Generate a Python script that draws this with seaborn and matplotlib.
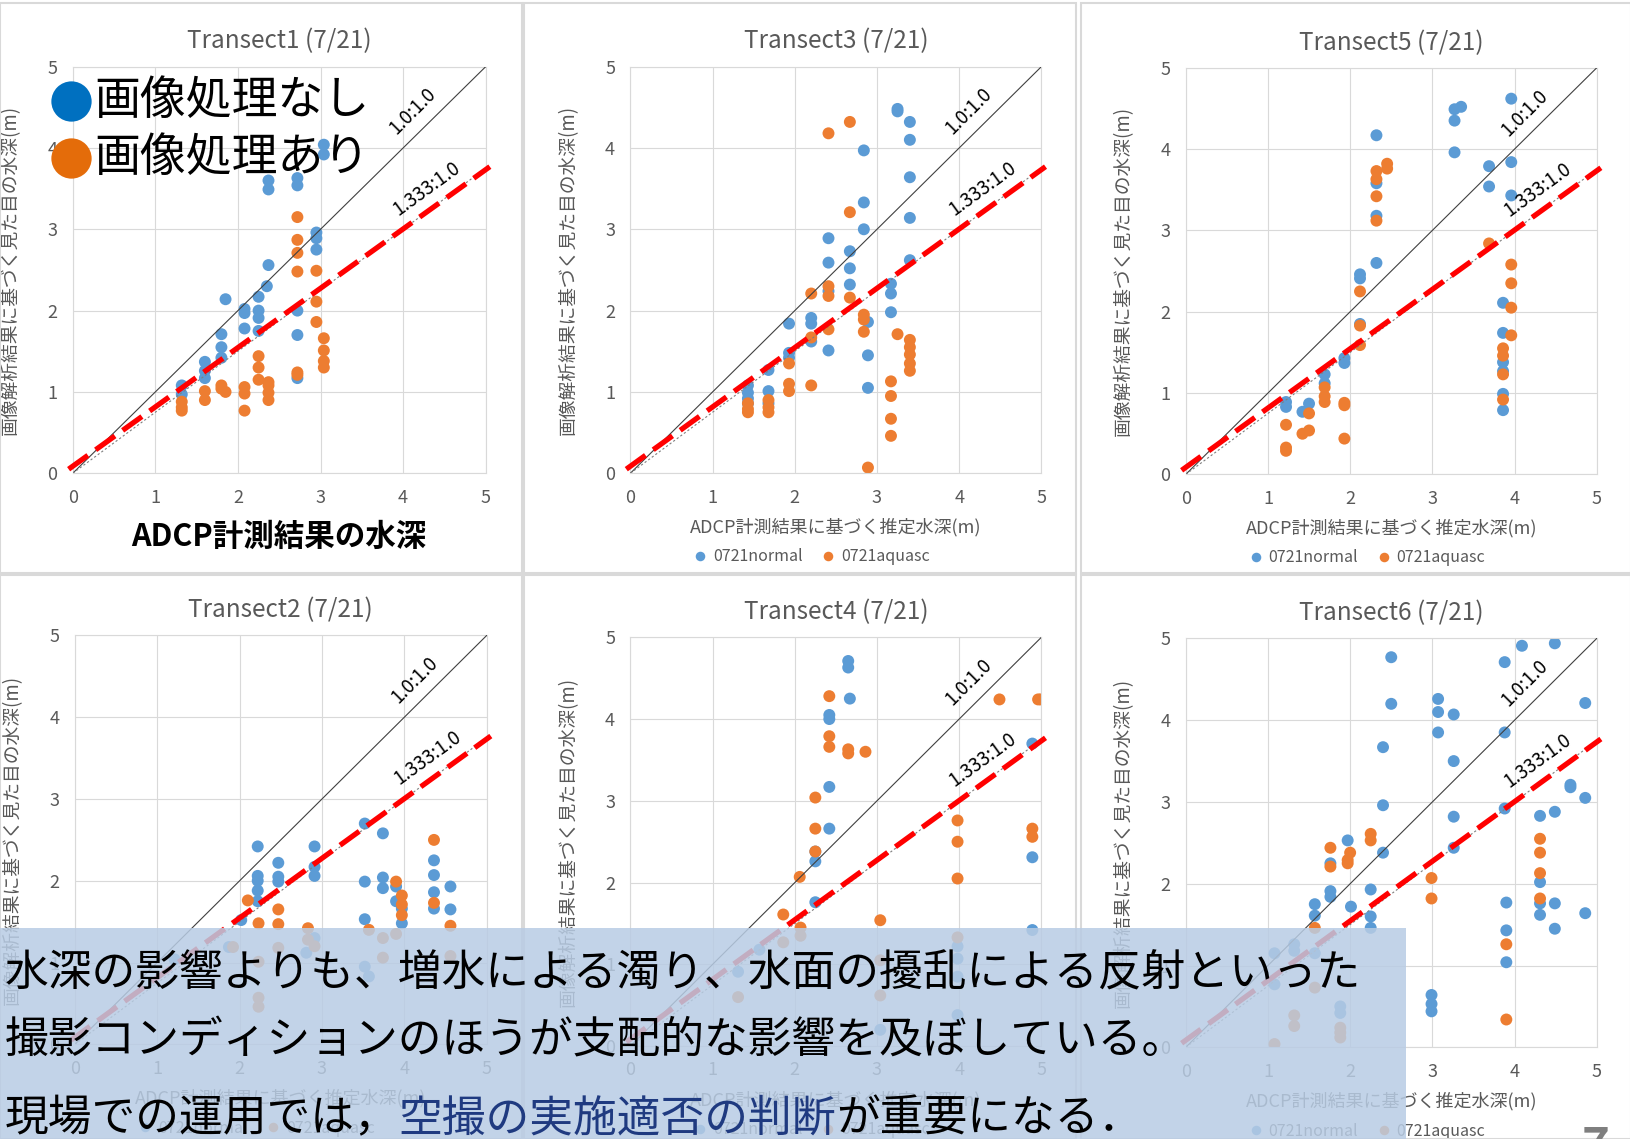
import numpy as np
import pandas as pd
import matplotlib
matplotlib.use("Agg")
import matplotlib.pyplot as plt
from matplotlib.lines import Line2D
from matplotlib.patches import Rectangle
import seaborn as sns

# ---- data (ADCP depth vs. image-based depth) ----
t1_x_normal = [1.32, 1.32, 1.60, 1.60, 1.60, 1.80, 1.80, 1.80, 1.85, 2.08, 2.08, 2.08,
               2.25, 2.25, 2.25, 2.25, 2.37, 2.35, 2.37, 2.37, 2.72, 2.72, 2.72, 2.72, 2.72,
               2.95, 2.95, 2.95, 3.04, 3.04]
t1_y_normal = [1.08, 0.97, 1.37, 1.26, 1.17, 1.71, 1.55, 1.42, 2.14, 2.02, 1.97, 1.78,
               2.17, 2.00, 1.91, 1.75, 2.56, 2.30, 3.60, 3.49, 3.63, 3.54, 2.00, 1.70, 1.17,
               2.96, 2.89, 2.75, 4.04, 3.92]
t1_x_aquasc = [1.32, 1.32, 1.32, 1.60, 1.60, 1.80, 1.80, 1.85, 2.08, 2.08, 2.08,
               2.25, 2.25, 2.25, 2.37, 2.37, 2.37, 2.37, 2.72, 2.72, 2.72, 2.72, 2.72, 2.72,
               2.95, 2.95, 2.95, 3.04, 3.04, 3.04, 3.04]
t1_y_aquasc = [0.88, 0.81, 0.77, 1.01, 0.90, 1.08, 1.04, 1.00, 1.06, 0.98, 0.77,
               1.44, 1.30, 1.15, 1.12, 1.08, 0.99, 0.90, 3.15, 2.87, 2.71, 2.48, 1.24, 1.21,
               2.49, 2.11, 1.86, 1.66, 1.51, 1.38, 1.30]

t3_x_normal = [1.43, 1.43, 1.43, 1.43, 1.68, 1.68, 1.68, 1.93, 1.93, 1.93, 2.20, 2.20, 2.20,
               2.41, 2.41, 2.41, 2.41, 2.67, 2.67, 2.67, 2.84, 2.84, 2.84, 2.89, 2.89, 2.89,
               3.17, 3.17, 3.17, 3.25, 3.25, 3.40, 3.40, 3.40, 3.40, 3.40]
t3_y_normal = [1.08, 0.99, 0.92, 0.86, 1.27, 1.01, 0.86, 1.84, 1.48, 1.42, 1.91, 1.84, 1.62,
               2.89, 2.59, 2.24, 1.51, 2.73, 2.52, 2.32, 3.97, 3.33, 3.00, 1.86, 1.45, 1.05,
               2.33, 2.21, 1.98, 4.45, 4.48, 4.32, 4.10, 3.64, 3.14, 2.62]
t3_x_aquasc = [1.43, 1.43, 1.43, 1.68, 1.68, 1.68, 1.93, 1.93, 1.93, 2.20, 2.20, 2.20,
               2.41, 2.41, 2.41, 2.41, 2.67, 2.67, 2.67, 2.84, 2.84, 2.84, 2.89,
               3.17, 3.17, 3.17, 3.17, 3.25, 3.40, 3.40, 3.40, 3.40, 3.40]
t3_y_aquasc = [0.86, 0.79, 0.75, 0.90, 0.81, 0.75, 1.35, 1.10, 1.01, 1.08, 2.21, 1.67,
               4.18, 2.30, 2.18, 1.77, 4.32, 3.21, 2.16, 1.95, 1.89, 1.74, 0.07,
               1.13, 0.95, 0.67, 0.46, 1.71, 1.64, 1.55, 1.46, 1.35, 1.26]

t5_x_normal = [1.22, 1.22, 1.42, 1.50, 1.69, 1.69, 1.93, 1.93, 2.12, 2.12, 2.12,
               2.32, 2.32, 2.32, 2.32, 3.27, 3.27, 3.27, 3.35, 3.69, 3.69, 3.96, 3.96, 3.96,
               3.86, 3.86, 3.86, 3.86, 3.86, 3.86]
t5_y_normal = [0.89, 0.83, 0.77, 0.87, 1.23, 1.12, 1.43, 1.37, 2.46, 2.41, 1.85,
               4.17, 3.58, 3.18, 2.60, 4.49, 4.35, 3.96, 4.52, 3.79, 3.54, 4.62, 3.84, 3.43,
               2.11, 1.74, 1.38, 1.27, 0.99, 0.79]
t5_x_aquasc = [1.22, 1.22, 1.22, 1.42, 1.50, 1.50, 1.69, 1.69, 1.69, 1.93, 1.93, 1.93,
               2.12, 2.12, 2.12, 2.32, 2.32, 2.32, 2.32, 2.45, 2.45, 3.69,
               3.96, 3.96, 3.96, 3.96, 3.86, 3.86, 3.86, 3.86]
t5_y_aquasc = [0.61, 0.33, 0.29, 0.50, 0.75, 0.54, 1.07, 0.96, 0.89, 0.88, 0.85, 0.44,
               2.25, 1.83, 1.59, 3.73, 3.63, 3.42, 3.12, 3.82, 3.76, 2.84,
               2.58, 2.35, 2.05, 1.71, 1.55, 1.46, 1.23, 0.92]

t2_x_normal = [2.02, 2.22, 2.22, 2.22, 2.22, 2.22, 2.47, 2.47, 2.47, 2.91, 2.91, 2.91,
               3.52, 3.52, 3.52, 3.74, 3.74, 3.74, 3.90, 3.90, 3.97, 3.97,
               4.36, 4.36, 4.36, 4.36, 4.56, 4.56, 1.87, 2.81, 3.52, 3.57, 1.21, 2.91]
t2_y_normal = [1.52, 2.42, 2.06, 2.00, 1.88, 1.75, 2.22, 2.05, 1.99, 2.42, 2.17, 2.06,
               2.70, 1.99, 1.53, 2.58, 2.04, 1.91, 1.93, 1.75, 1.66, 1.48,
               2.25, 2.07, 1.86, 1.66, 1.93, 1.65, 1.19, 1.12, 0.95, 0.83, 1.04, 1.30]
t2_x_aquasc = [2.10, 2.23, 2.47, 2.47, 2.83, 3.57, 3.90, 3.97, 3.97, 3.97, 4.36, 4.36, 4.56,
               2.23, 2.23, 2.23, 2.47, 3.74, 4.56, 2.83, 1.92, 2.91, 3.74, 3.90]
t2_y_aquasc = [1.76, 1.48, 1.65, 1.47, 1.42, 1.40, 1.99, 1.82, 1.71, 1.58, 2.50, 1.73, 1.45,
               1.01, 0.57, 0.46, 1.18, 1.06, 1.08, 1.28, 1.19, 1.20, 1.30, 1.35]

t4_x_normal = [2.65, 2.65, 2.67, 2.42, 2.42, 2.42, 2.42, 2.25, 2.25, 2.25, 4.89, 4.89, 4.89,
               3.98, 3.98, 3.98, 3.98, 1.31, 1.57, 3.04]
t4_y_normal = [4.71, 4.63, 4.25, 4.05, 4.00, 3.17, 2.66, 2.38, 2.26, 1.76, 3.70, 2.31, 1.42,
               1.22, 1.07, 0.85, 0.38, 0.91, 1.18, 0.20]
t4_x_aquasc = [2.42, 2.42, 2.42, 2.65, 2.65, 2.86, 2.25, 2.25, 2.25, 2.06, 1.86, 2.07, 3.04,
               3.98, 3.98, 3.98, 4.49, 4.96, 4.99, 4.89, 4.89, 3.98, 3.04, 1.31, 1.86, 2.07, 3.04]
t4_y_aquasc = [4.28, 3.79, 3.66, 3.63, 3.58, 3.60, 3.04, 2.66, 2.38, 2.07, 1.61, 1.45, 1.54,
               2.76, 2.50, 2.05, 4.24, 4.24, 4.24, 2.66, 2.56, 1.33, 0.62, 0.60, 1.27, 1.35, 1.05]

t6_x_normal = [2.50, 2.50, 2.40, 2.40, 2.40, 1.97, 2.01, 1.76, 1.76, 1.76, 1.57, 1.57,
               2.25, 2.25, 2.25, 3.07, 3.07, 3.07, 3.26, 3.26, 3.26, 3.26, 3.88, 3.88, 3.88,
               4.09, 4.49, 4.86, 4.86, 4.86, 4.68, 4.68, 4.31, 4.31, 4.31, 4.31,
               4.49, 4.49, 4.49, 3.90, 3.90, 3.90, 2.99, 2.99, 2.99,
               1.08, 1.32, 1.32, 1.88, 1.88, 1.08, 1.57]
t6_y_normal = [4.77, 4.20, 3.67, 2.96, 2.38, 2.53, 1.72, 2.25, 1.91, 1.84, 1.75, 1.61,
               1.93, 1.60, 1.46, 4.26, 4.10, 3.85, 4.07, 3.50, 2.82, 2.44, 4.71, 3.85, 2.92,
               4.91, 4.94, 4.21, 3.05, 1.64, 3.21, 3.18, 2.83, 2.02, 1.76, 1.62,
               2.88, 1.76, 1.45, 1.77, 1.43, 1.04, 0.64, 0.53, 0.44,
               1.15, 1.26, 1.18, 0.50, 0.42, 0.77, 1.15]
t6_x_aquasc = [1.76, 1.76, 2.00, 1.97, 1.97, 2.25, 2.25, 1.57, 2.99, 2.99,
               4.31, 4.31, 4.31, 4.31, 3.90, 3.90, 1.08, 1.32, 1.32, 1.88, 1.88, 1.57, 1.88]
t6_y_aquasc = [2.44, 2.21, 2.38, 2.29, 2.25, 2.61, 2.53, 1.46, 2.07, 1.82,
               2.55, 2.38, 2.13, 1.82, 1.26, 0.34, 0.04, 0.39, 0.26, 0.24, 0.12, 0.73, 0.18]

titles = ['Transect1 (7/21)', 'Transect3 (7/21)', 'Transect5 (7/21)',
          'Transect2 (7/21)', 'Transect4 (7/21)', 'Transect6 (7/21)']
series_names = ['0721normal', '0721aquasc']
ratio_labels = ['1.0:1.0', '1.333:1.0']
ylabel_text = '画像解析結果に基づく見た目の水深(m)'
xlabel_text = 'ADCP計測結果に基づく推定水深(m)'
legend_texts = ['画像処理なし', '画像処理あり']
note_lines = ['水深の影響よりも、増水による濁り、水面の擾乱による反射といった',
              '撮影コンディションのほうが支配的な影響を及ぼしている。']
note_last = [('現場での運用では，', 'black'), ('空撮の実施適否の判断', '#1F3A80'),
             ('が重要になる．', 'black')]

BLUE = '#5B9BD5'
ORANGE = '#ED7D31'
GRAY = '#595959'

sns.set_style('whitegrid', {'grid.color': '#D9D9D9', 'axes.edgecolor': '#D9D9D9'})
plt.rcParams['font.family'] = ['Noto Sans CJK JP', 'DejaVu Sans']

fig = plt.figure(figsize=(16.31, 11.39), dpi=100)

# axes boxes [left, bottom, width, height] in figure fractions
boxes = [
    [0.0446, 0.5845, 0.2532, 0.357],
    [0.3865, 0.5845, 0.2520, 0.357],
    [0.7270, 0.5835, 0.2520, 0.357],
    [0.0459, 0.0831, 0.2525, 0.359],
    [0.3865, 0.0815, 0.2520, 0.359],
    [0.7270, 0.0805, 0.2520, 0.359],
]
panel_data = [
    (t1_x_normal, t1_y_normal, t1_x_aquasc, t1_y_aquasc),
    (t3_x_normal, t3_y_normal, t3_x_aquasc, t3_y_aquasc),
    (t5_x_normal, t5_y_normal, t5_x_aquasc, t5_y_aquasc),
    (t2_x_normal, t2_y_normal, t2_x_aquasc, t2_y_aquasc),
    (t4_x_normal, t4_y_normal, t4_x_aquasc, t4_y_aquasc),
    (t6_x_normal, t6_y_normal, t6_x_aquasc, t6_y_aquasc),
]


def draw_panel(ax, title, xn, yn, xa, ya, first=False):
    df = pd.concat([
        pd.DataFrame({'x': xn, 'y': yn, 'series': series_names[0]}),
        pd.DataFrame({'x': xa, 'y': ya, 'series': series_names[1]}),
    ], ignore_index=True)
    sns.scatterplot(data=df, x='x', y='y', hue='series',
                    palette={series_names[0]: BLUE, series_names[1]: ORANGE},
                    s=74, edgecolor='none', linewidth=0, ax=ax, zorder=2)

    # reference lines 1:1 and 1.333:1
    ax.plot([0, 5], [0, 5], color='#404040', lw=0.8, zorder=3)
    ax.plot([0, 5], [0, 3.75], color='#7F7F7F', lw=0.8, ls=(0, (2, 2)), zorder=3)
    ax.plot([-0.05, 5.05], [0.05, 3.77], color='#FF0000', lw=3.8,
            dashes=(4.5, 1.8), zorder=4, clip_on=False)
    ax.text(4.12, 4.45, ratio_labels[0], rotation=45, ha='center', va='center',
            fontsize=13.5, color='black', zorder=5)
    ax.text(4.28, 3.50, ratio_labels[1], rotation=36, ha='center', va='center',
            fontsize=13.5, color='black', zorder=5)

    ax.set_xlim(0, 5)
    ax.set_ylim(0, 5)
    ax.set_xticks(range(6))
    ax.set_yticks(range(6))
    ax.tick_params(length=0, pad=11, labelsize=13, labelcolor=GRAY)
    for sp in ax.spines.values():
        sp.set_color('#D9D9D9')
    ax.set_title(title, fontsize=17.5, color=GRAY, pad=13)

    ax.set_ylabel(ylabel_text, fontsize=13.5, color=GRAY)
    if first:
        ax.set_xlabel('')
        ax.yaxis.set_label_coords(-0.125, 0.5)
        ax.legend_.remove()
    else:
        ax.set_xlabel(xlabel_text, fontsize=13, color=GRAY)
        ax.xaxis.set_label_coords(0.5, -0.11)
        ax.yaxis.set_label_coords(-0.125, 0.5)
        ax.legend(loc='center', bbox_to_anchor=(0.43, -0.205), ncol=2, frameon=False,
                  fontsize=11.5, labelcolor=GRAY, handletextpad=-0.2, columnspacing=0.6,
                  markerscale=0.8, borderaxespad=0)


for i, (box, title, d) in enumerate(zip(boxes, titles, panel_data)):
    ax = fig.add_axes(box)
    draw_panel(ax, title, *d, first=(i == 0))

# light frames around each chart object
frame_x = [(0.0, 0.320), (0.3215, 0.3385), (0.6625, 0.3375)]
frame_y = [(0.497, 0.500), (0.0, 0.495)]
for fy, fh in frame_y:
    for fx, fw in frame_x:
        fig.add_artist(Rectangle((fx, fy), fw, fh, transform=fig.transFigure,
                                 fill=False, edgecolor='#D9D9D9', lw=1.5, zorder=1))

# slide annotations on the first chart
fig.text(0.171, 0.529, 'ADCP計測結果の水深', ha='center', va='center',
         fontsize=22, fontweight='bold', color='black', zorder=6)
for j, (txt, col) in enumerate(zip(legend_texts, ['#0070C0', '#E46C0A'])):
    yy = 0.9114 - j * 0.0502
    fig.add_artist(Line2D([0.0434], [yy], marker='o', markersize=29, color=col,
                          markeredgewidth=0, transform=fig.transFigure, zorder=6))
    fig.text(0.0578, yy, txt, ha='left', va='center', fontsize=33,
             color='black', zorder=6)

# translucent note box
fig.add_artist(Rectangle((0, 0), 0.862, 0.185, transform=fig.transFigure,
                         facecolor='#B8CCE4', alpha=0.85, edgecolor='none', zorder=10))
note_y = [0.1457, 0.0869]
for line, yy in zip(note_lines, note_y):
    fig.text(0.003, yy, line, ha='left', va='center', fontsize=31.5,
             color='black', zorder=11)

renderer = fig.canvas.get_renderer()
x0 = 0.003
for part, col in note_last:
    t = fig.text(x0, 0.018, part, ha='left', va='center', fontsize=31.5,
                 color=col, zorder=11)
    x0 = t.get_window_extent(renderer).x1 / fig.bbox.width

# slide number peeking at the bottom
fig.text(0.978, 0.0135, '7', ha='center', va='top', fontsize=34,
         fontweight='bold', color='#7F7F7F', zorder=11)

fig.savefig('out.png', dpi=100)
